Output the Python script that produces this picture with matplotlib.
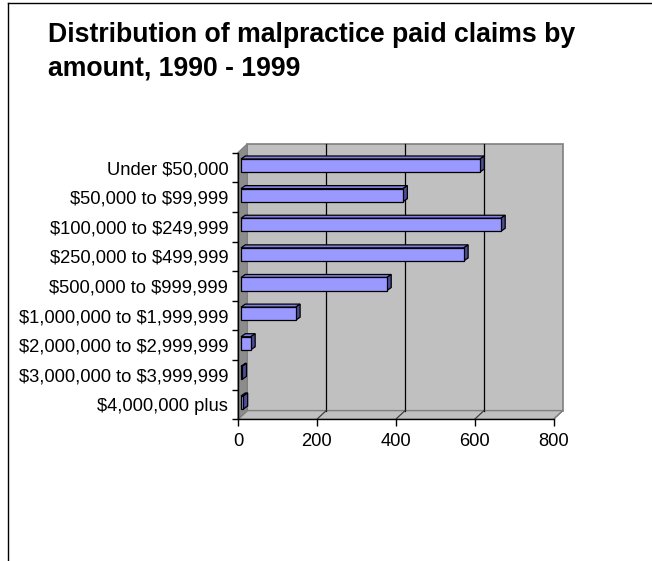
import matplotlib
matplotlib.use("Agg")
import matplotlib.pyplot as plt
import numpy as np
from matplotlib.patches import Polygon, Rectangle
from matplotlib.lines import Line2D
from matplotlib.transforms import offset_copy

plt.rcParams['font.family'] = ['Liberation Sans', 'DejaVu Sans']

title_lines = ["Distribution of malpractice paid claims by", "amount, 1990 - 1999"]
categories = ["Under $50,000", "$50,000 to $99,999", "$100,000 to $249,999",
              "$250,000 to $499,999", "$500,000 to $999,999",
              "$1,000,000 to $1,999,999", "$2,000,000 to $2,999,999",
              "$3,000,000 to $3,999,999", "$4,000,000 plus"]
values = [606, 411, 659, 565, 370, 139, 25, 3, 6]
xticks = [0, 200, 400, 600, 800]

W, H = 652, 561
fig = plt.figure(figsize=(W / 100, H / 100), dpi=100)
L, R, T, B = 238, 553.5, 152.7, 419.3
ax = fig.add_axes([L / W, 1 - B / H, (R - L) / W, (B - T) / H])
ax.set_facecolor('none')
ax.set_xlim(0, 800)
n = len(categories)
ax.set_ylim(n - 0.5, -0.5)

# depth offsets (pixels)
DX, DY = 9.3, 8.7
axw, axh = R - L, B - T
dxa, dya = DX / axw, DY / axh           # axes units
pxx = 800 / axw                         # data units per px in x
pxy = n / axh                           # data units per px in y

wall_c = '#C0C0C0'
edge_c = '#808080'

# back wall
back = offset_copy(ax.transAxes, fig, x=DX, y=DY, units='dots')
ax.add_patch(Rectangle((0, 0), 1, 1, transform=back, facecolor=wall_c,
                       edgecolor=edge_c, lw=1.2, clip_on=False, zorder=0))
# floor
ax.add_patch(Polygon([(0, 0), (1, 0), (1 + dxa, dya), (dxa, dya)], closed=True,
                     transform=ax.transAxes, facecolor=wall_c, edgecolor=edge_c,
                     lw=1.0, clip_on=False, zorder=0.5))
# left wall
ax.add_patch(Polygon([(0, 0), (0, 1), (dxa, 1 + dya), (dxa, dya)], closed=True,
                     transform=ax.transAxes, facecolor='#8C8C8C', edgecolor=edge_c,
                     lw=1.0, clip_on=False, zorder=0.6))
# gridlines on back wall and floor
for xv in xticks[1:-1]:
    xa = xv / 800
    ax.add_line(Line2D([xa + dxa, xa + dxa], [dya, 1 + dya], transform=ax.transAxes,
                       color='black', lw=0.9, clip_on=False, zorder=0.7))
for xv in xticks[1:]:
    xa = xv / 800
    ax.add_line(Line2D([xa, xa + dxa], [0, dya], transform=ax.transAxes,
                       color='#404040' if xv < 800 else edge_c, lw=0.9,
                       clip_on=False, zorder=0.7))

# bars
FX, FY = 3.0, 2.0      # front face offset px
BX, BY = 7.3, 5.0      # back face offset px
hgt = 0.44
yy = np.arange(n)
front = offset_copy(ax.transData, fig, x=FX, y=FY, units='dots')
bars = ax.barh(yy, values, height=hgt, color='#9999FF', edgecolor='black',
               lw=0.9, zorder=3)
for b in bars:
    b.set_transform(front)
    b.set_clip_on(False)
ox0, oy0 = FX * pxx, -FY * pxy
ox1, oy1 = BX * pxx, -BY * pxy
for y, v in zip(yy, values):
    top = y - hgt / 2
    bot = y + hgt / 2
    # top face
    ax.add_patch(Polygon([(ox0, top + oy0), (v + ox0, top + oy0),
                          (v + ox1, top + oy1), (ox1, top + oy1)], closed=True,
                         facecolor='#7F7FE0', edgecolor='black', lw=0.9,
                         clip_on=False, zorder=2.9))
    # side face
    ax.add_patch(Polygon([(v + ox0, top + oy0), (v + ox0, bot + oy0),
                          (v + ox1, bot + oy1), (v + ox1, top + oy1)], closed=True,
                         facecolor='#4D4D99', edgecolor='black', lw=0.9,
                         clip_on=False, zorder=2.9))

# axes
for s in ['top', 'right']:
    ax.spines[s].set_visible(False)
for s in ['left', 'bottom']:
    ax.spines[s].set_color('black')
    ax.spines[s].set_linewidth(1.0)
    ax.spines[s].set_zorder(4)
ax.set_xticks(xticks)
ax.set_xticklabels([str(t) for t in xticks])
ax.set_yticks(yy)
ax.set_yticklabels([c.replace('$', r'\$') for c in categories])
ax.set_yticks(np.arange(n + 1) - 0.5, minor=True)
ax.tick_params(axis='y', which='major', length=0, pad=7, labelsize=13.2)
ax.tick_params(axis='y', which='minor', length=4, width=1.0, color='black')
ax.tick_params(axis='x', length=5, width=1.0, color='black', pad=5, labelsize=13.2)

for i, line in enumerate(title_lines):
    fig.text(48 / W, 1 - (42 + 33 * i) / H, line, fontsize=19.2, fontweight='bold',
             ha='left', va='baseline')

# outer frame
fig.add_artist(Line2D([7.5 / W, 7.5 / W], [0, 1 - 2.7 / H], transform=fig.transFigure,
                      color='black', lw=1.0))
fig.add_artist(Line2D([7.5 / W, 1], [1 - 2.7 / H, 1 - 2.7 / H], transform=fig.transFigure,
                      color='black', lw=1.0))

fig.savefig('out.png', dpi=100)
